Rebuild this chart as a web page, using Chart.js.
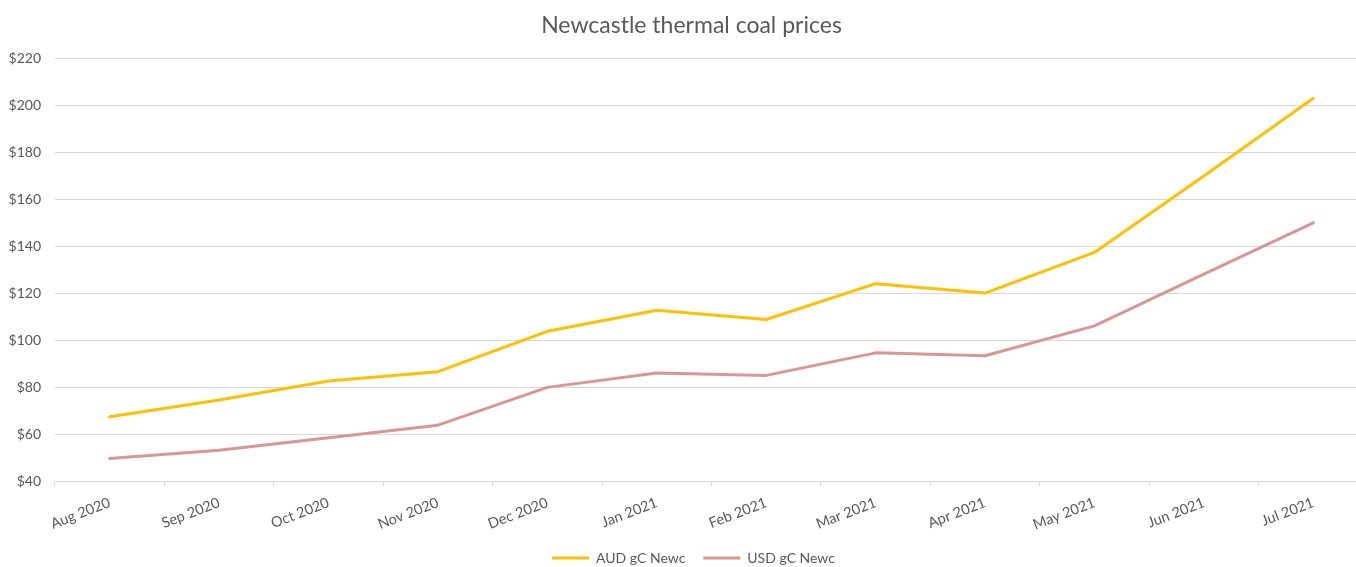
<!DOCTYPE html>
<html><head><meta charset="utf-8">
<script src="https://cdn.jsdelivr.net/npm/chart.js@4/dist/chart.umd.min.js"></script>
<style>html,body{margin:0;padding:0;background:#fff;overflow:hidden}#wrap{width:1383px;height:567px;position:relative}canvas{display:block}</style>
</head><body><div id="wrap"><canvas id="c" width="1383" height="567"></canvas></div>
<script>
const categories = ['Aug 2020','Sep 2020','Oct 2020','Nov 2020','Dec 2020','Jan 2021','Feb 2021','Mar 2021','Apr 2021','May 2021','Jun 2021','Jul 2021'];
const audValues = [67.4, 74.5, 82.6, 86.6, 103.8, 112.8, 108.8, 124.1, 120.1, 137.4, 170, 203.1];
const usdValues = [49.6, 53.1, 58.4, 63.8, 79.9, 86.0, 85.0, 94.6, 93.4, 106.1, 128.2, 150.0];
const seriesNames = ['AUD gC Newc', 'USD gC Newc'];
const yMin = 40, yMax = 220, yStep = 20;
const titleText = 'Newcastle thermal coal prices';

const FONT = 'Lato, "Open Sans", sans-serif';
const GREY = '#595959';
const GRID = '#D9D9D9';

// shift title and legend horizontally so they are centred like the original
const centreShift = {
  id: 'centreShift',
  afterLayout(chart) {
    if (chart.titleBlock) { chart.titleBlock.left += 7.5; chart.titleBlock.right += 7.5; }
    if (chart.legend) { chart.legend.left += 9.5; chart.legend.right += 9.5; }
  }
};

new Chart(document.getElementById('c'), {
  type: 'line',
  data: {
    labels: categories,
    datasets: [
      {label: seriesNames[0], data: audValues, borderColor: '#FFC000', backgroundColor: '#FFC000', borderWidth: 3, pointRadius: 0, borderCapStyle: 'round', borderJoinStyle: 'round', tension: 0},
      {label: seriesNames[1], data: usdValues, borderColor: '#DA9694', backgroundColor: '#DA9694', borderWidth: 3, pointRadius: 0, borderCapStyle: 'round', borderJoinStyle: 'round', tension: 0}
    ]
  },
  plugins: [centreShift],
  options: {
    responsive: false,
    animation: false,
    devicePixelRatio: 1,
    layout: {padding: {left: 0, right: 15, top: 0, bottom: -8}},
    plugins: {
      title: {display: true, text: titleText, color: GREY, font: {family: FONT, size: 23, weight: 'normal'}, padding: {top: 12, bottom: 19}},
      legend: {position: 'bottom', labels: {color: GREY, font: {family: FONT, size: 14}, usePointStyle: true, pointStyle: 'line', pointStyleWidth: 37, padding: 18}},
      tooltip: {enabled: false}
    },
    scales: {
      x: {
        offset: true,
        afterFit: (s) => { s.height = 52; },
        grid: {display: true, drawOnChartArea: false, drawTicks: true, tickLength: 5, color: GRID, offset: true},
        border: {display: true, color: GRID},
        ticks: {color: GREY, font: {family: FONT, size: 14.5}, minRotation: 21, maxRotation: 21, autoSkip: false, padding: 8}
      },
      y: {
        min: yMin, max: yMax,
        afterFit: (s) => { s.width = 55; },
        grid: {color: GRID, drawTicks: false},
        border: {display: false},
        ticks: {stepSize: yStep, color: GREY, font: {family: FONT, size: 14}, padding: 14, callback: (v) => '$' + v}
      }
    }
  }
});
</script>
</body></html>
